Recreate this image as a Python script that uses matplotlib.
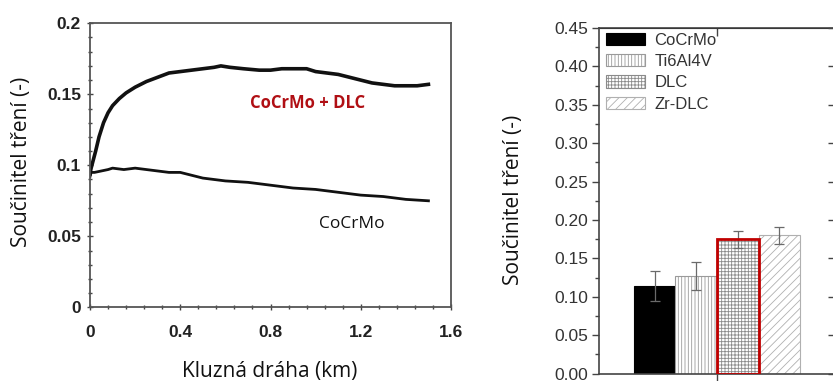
import numpy as np
import matplotlib
matplotlib.use("Agg")
import matplotlib.pyplot as plt
import matplotlib.ticker as mticker
from matplotlib.patches import Patch

# ── Friction curves (sliding distance in km vs. coefficient of friction) ─────
dlc_x = [0.000, 0.005, 0.015, 0.025, 0.040, 0.060, 0.080, 0.100, 0.130, 0.160,
         0.200, 0.250, 0.300, 0.350, 0.400, 0.450, 0.500, 0.550, 0.580, 0.620,
         0.680, 0.750, 0.800, 0.850, 0.900, 0.960, 1.000, 1.050, 1.100, 1.150,
         1.200, 1.250, 1.300, 1.350, 1.400, 1.450, 1.500]
dlc_y = [0.094, 0.098, 0.104, 0.110, 0.120, 0.130, 0.137, 0.142, 0.147, 0.151,
         0.155, 0.159, 0.162, 0.165, 0.166, 0.167, 0.168, 0.169, 0.170, 0.169,
         0.168, 0.167, 0.167, 0.168, 0.168, 0.168, 0.166, 0.165, 0.164, 0.162,
         0.160, 0.158, 0.157, 0.156, 0.156, 0.156, 0.157]

cocrmo_x = [0.000, 0.005, 0.020, 0.050, 0.080, 0.100, 0.150, 0.200, 0.250, 0.300,
            0.350, 0.400, 0.450, 0.500, 0.600, 0.700, 0.800, 0.900, 1.000, 1.100,
            1.200, 1.300, 1.400, 1.500]
cocrmo_y = [0.092, 0.095, 0.095, 0.096, 0.097, 0.098, 0.097, 0.098, 0.097, 0.096,
            0.095, 0.095, 0.093, 0.091, 0.089, 0.088, 0.086, 0.084, 0.083, 0.081,
            0.079, 0.078, 0.076, 0.075]

# ── Mean coefficient of friction per material ────────────────────────────────
materials = ["CoCrMo", "Ti6Al4V", "DLC", "Zr-DLC"]
cof_mean = [0.114, 0.127, 0.175, 0.180]
cof_err = [0.020, 0.018, 0.011, 0.011]

YLABEL = "Součinitel tření (-)"
LABEL_FONT = "Open Sans"
TICK_FONT = "Liberation Sans"

W, H = 833, 381
fig = plt.figure(figsize=(W / 100, H / 100), dpi=100)

def px_axes(x0, y0, x1, y1):
    """Axes from pixel box (top-left origin)."""
    return fig.add_axes([x0 / W, 1 - y1 / H, (x1 - x0) / W, (y1 - y0) / H])

# ── Left: friction vs. sliding distance ──────────────────────────────────────
ax = px_axes(90, 23.3, 451, 307.3)
ax.plot(dlc_x, dlc_y, color="#111111", lw=2.6, solid_joinstyle="round")
ax.plot(cocrmo_x, cocrmo_y, color="#111111", lw=2.0, solid_joinstyle="round")
ax.set_xlim(0, 1.6)
ax.set_ylim(0, 0.2)
ax.xaxis.set_major_locator(mticker.FixedLocator([0, 0.4, 0.8, 1.2, 1.6]))
ax.xaxis.set_minor_locator(mticker.MultipleLocator(0.08))
ax.yaxis.set_major_locator(mticker.FixedLocator([0, 0.05, 0.1, 0.15, 0.2]))
ax.yaxis.set_minor_locator(mticker.MultipleLocator(0.01))
ax.set_xticklabels(["0", "0.4", "0.8", "1.2", "1.6"])
ax.set_yticklabels(["0", "0.05", "0.1", "0.15", "0.2"])
ax.tick_params(which="both", direction="inout", color="#444444", width=1.0)
ax.tick_params(which="major", length=5)
ax.tick_params(which="minor", length=3.5)
ax.tick_params(axis="x", pad=10)
ax.tick_params(axis="y", pad=4)
for lab in ax.get_xticklabels() + ax.get_yticklabels():
    lab.set_fontfamily(TICK_FONT)
    lab.set_fontweight("bold")
    lab.set_fontsize(12.5)
    lab.set_color("#222222")
for s in ax.spines.values():
    s.set_color("#555555")
    s.set_linewidth(1.3)

ax.text(0.964, 0.1439, "CoCrMo + DLC", color="#B00F14", fontweight="bold",
        fontsize=12, family=LABEL_FONT, ha="center", va="center")
ax.text(1.161, 0.0587, "CoCrMo", color="#111111",
        fontsize=12.5, family=LABEL_FONT, ha="center", va="center")

fig.text(22 / W, 1 - 162 / H, YLABEL, rotation=90, ha="center", va="center",
         fontsize=15, family=LABEL_FONT, color="#111111")
fig.text(270 / W, 1 - 371 / H, "Kluzná dráha (km)", ha="center", va="center",
         fontsize=15, family=LABEL_FONT, color="#111111")

# ── Right: mean friction per material ────────────────────────────────────────
plt.rcParams["hatch.linewidth"] = 0.6
bx = px_axes(599, 28, 835, 373.5)
bw = 0.352
pos = [-1.5 * bw, -0.5 * bw, 0.5 * bw, 1.5 * bw]
styles = [
    dict(facecolor="black", edgecolor="black", hatch=None),
    dict(facecolor="white", edgecolor="#9a9a9a", hatch="|||||"),
    dict(facecolor="white", edgecolor="#8a8a8a", hatch="+++++"),
    dict(facecolor="white", edgecolor="#b0b0b0", hatch="////"),
]
for p, m, e, st in zip(pos, cof_mean, cof_err, styles):
    bx.bar(p, m, width=bw, linewidth=0.8, zorder=2, **st)
    bx.errorbar(p, m, yerr=e, fmt="none", ecolor="#6a6a6a", elinewidth=0.9,
                capsize=3.5, capthick=0.9, zorder=3)
# red frame around the DLC bar
bx.bar(pos[2], cof_mean[2], width=bw, facecolor="none", edgecolor="#C00000",
       linewidth=2.0, zorder=4)

bx.set_xlim(-1, 1)
bx.set_ylim(0, 0.45)
bx.yaxis.set_major_locator(mticker.MultipleLocator(0.05))
bx.yaxis.set_minor_locator(mticker.MultipleLocator(0.025))
bx.yaxis.set_major_formatter(mticker.FormatStrFormatter("%.2f"))
bx.set_xticks([0])
bx.set_xticklabels([])
bx.tick_params(axis="y", which="major", direction="out", length=5, width=1.0,
               color="#444444", labelsize=12.5, pad=3, labelcolor="#333333")
bx.tick_params(axis="y", which="minor", direction="out", length=3, width=1.0,
               color="#444444")
bx.tick_params(axis="x", direction="out", length=6, width=1.0, color="#444444")
for lab in bx.get_yticklabels():
    lab.set_fontfamily(TICK_FONT)
for s in bx.spines.values():
    s.set_color("#444444")
    s.set_linewidth(1.2)

# inward ticks on the top and right frame
top = bx.secondary_xaxis("top")
top.set_xticks([0])
top.set_xticklabels([])
top.tick_params(direction="in", length=6, width=1.0, color="#444444")
right = bx.secondary_yaxis("right")
right.yaxis.set_major_locator(mticker.MultipleLocator(0.05))
right.yaxis.set_minor_locator(mticker.NullLocator())
right.set_yticklabels([])
right.tick_params(direction="in", length=5, width=1.0, color="#444444")

handles = [Patch(label=mat, linewidth=0.8, **st) for mat, st in zip(materials, styles)]
leg = bx.legend(handles=handles, loc="upper left", bbox_to_anchor=(-0.017, 1.018),
                frameon=False, handlelength=2.35, handleheight=0.75,
                handletextpad=0.55, labelspacing=0.38, borderaxespad=0.25,
                prop={"family": TICK_FONT, "size": 12})
for t in leg.get_texts():
    t.set_color("#333333")

fig.text(513 / W, 1 - 200 / H, YLABEL, rotation=90, ha="center", va="center",
         fontsize=15, family=LABEL_FONT, color="#111111")

fig.savefig("out.png", dpi=100)
